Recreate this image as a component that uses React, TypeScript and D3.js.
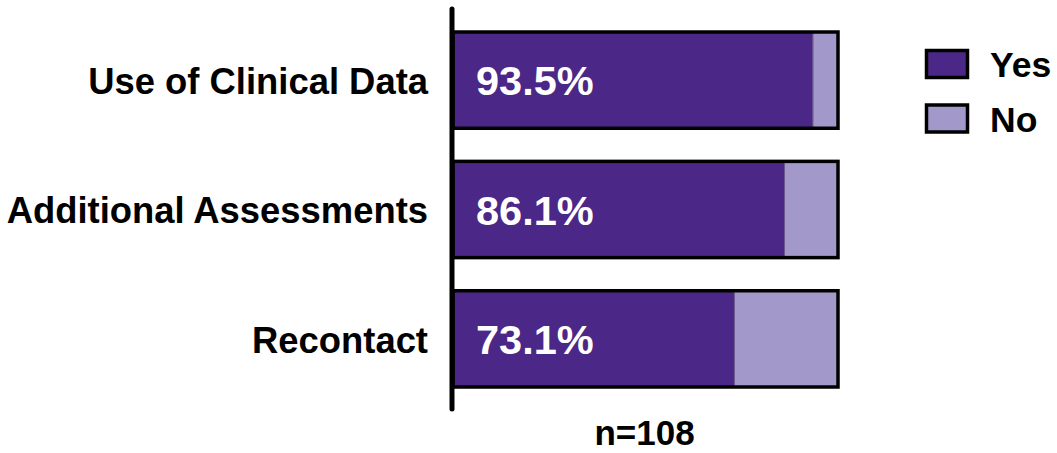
import React, { useEffect, useRef } from 'react';
import * as d3 from 'd3';

const categories = ['Use of Clinical Data', 'Additional Assessments', 'Recontact'];
const yesValues = [93.5, 86.1, 73.1];
const noValues = [6.5, 13.9, 26.9];
const seriesNames = ['Yes', 'No'];
const seriesColors = ['#4b2787', '#a398ca'];
const sampleLabel = 'n=108';

const FONT = '"Liberation Sans", Arial, Helvetica, sans-serif';

function App() {
  const ref = useRef<SVGSVGElement>(null);

  useEffect(() => {
    const svg = d3.select(ref.current);
    svg.selectAll('*').remove();

    const width = 1057;
    const height = 453;

    const x = d3.scaleLinear().domain([0, 100]).range([453, 838]);
    const y = d3
      .scaleBand()
      .domain(categories)
      .range([32, 387])
      .paddingInner(0.256)
      .paddingOuter(0);

    svg.attr('width', width).attr('height', height);

    const data = categories.map((c, i) => ({ cat: c, yes: yesValues[i], no: noValues[i] }));
    const stack = d3.stack<any>().keys(['yes', 'no'])(data);

    // stacked segments
    svg
      .append('g')
      .selectAll('g')
      .data(stack)
      .join('g')
      .attr('fill', (d, i) => seriesColors[i])
      .selectAll('rect')
      .data((d) => d)
      .join('rect')
      .attr('x', (d) => x(d[0]))
      .attr('y', (d) => y(d.data.cat)!)
      .attr('width', (d) => x(d[1]) - x(d[0]))
      .attr('height', y.bandwidth())
      .attr('stroke', '#6a5a8a')
      .attr('stroke-width', 1);

    // outline of each bar
    svg
      .append('g')
      .selectAll('rect')
      .data(data)
      .join('rect')
      .attr('x', x(0))
      .attr('y', (d) => y(d.cat)!)
      .attr('width', (d) => x(d.yes + d.no) - x(0))
      .attr('height', y.bandwidth())
      .attr('fill', 'none')
      .attr('stroke', '#000')
      .attr('stroke-width', 3.5);

    // percent labels
    svg
      .append('g')
      .selectAll('text')
      .data(data)
      .join('text')
      .attr('x', x(0) + 23)
      .attr('y', (d) => y(d.cat)! + y.bandwidth() / 2)
      .attr('dy', '0.37em')
      .attr('fill', '#fff')
      .attr('font-family', FONT)
      .attr('font-weight', 'bold')
      .attr('font-size', 41.5)
      .text((d) => `${d.yes.toFixed(1)}%`);

    // y axis line
    svg
      .append('line')
      .attr('x1', 452)
      .attr('x2', 452)
      .attr('y1', 9)
      .attr('y2', 409)
      .attr('stroke', '#000')
      .attr('stroke-width', 5)
      .attr('stroke-linecap', 'round');

    // category labels
    svg
      .append('g')
      .selectAll('text')
      .data(categories)
      .join('text')
      .attr('x', 428)
      .attr('y', (d) => y(d)! + y.bandwidth() / 2)
      .attr('dy', '0.38em')
      .attr('text-anchor', 'end')
      .attr('font-family', FONT)
      .attr('font-weight', 'bold')
      .attr('font-size', 36.4)
      .text((d) => d);

    // n label
    svg
      .append('text')
      .attr('x', (x(0) + x(100)) / 2 - 1)
      .attr('y', 445)
      .attr('text-anchor', 'middle')
      .attr('font-family', FONT)
      .attr('font-weight', 'bold')
      .attr('font-size', 35)
      .text(sampleLabel);

    // legend
    const legend = svg
      .append('g')
      .selectAll('g')
      .data(seriesNames)
      .join('g')
      .attr('transform', (d, i) => `translate(925,${49 + i * 54.5})`);

    legend
      .append('rect')
      .attr('x', 1.5)
      .attr('y', 1.5)
      .attr('width', 41)
      .attr('height', 27)
      .attr('fill', (d, i) => seriesColors[i])
      .attr('stroke', '#000')
      .attr('stroke-width', 3.5);

    legend
      .append('text')
      .attr('x', 65)
      .attr('y', 15)
      .attr('dy', '0.37em')
      .attr('font-family', FONT)
      .attr('font-weight', 'bold')
      .attr('font-size', 35.5)
      .text((d) => d);
  }, []);

  return (
    <div style={{ position: 'absolute', left: 0, top: 0 }}>
      <svg ref={ref} style={{ display: 'block' }}></svg>
    </div>
  );
}

export default App;
